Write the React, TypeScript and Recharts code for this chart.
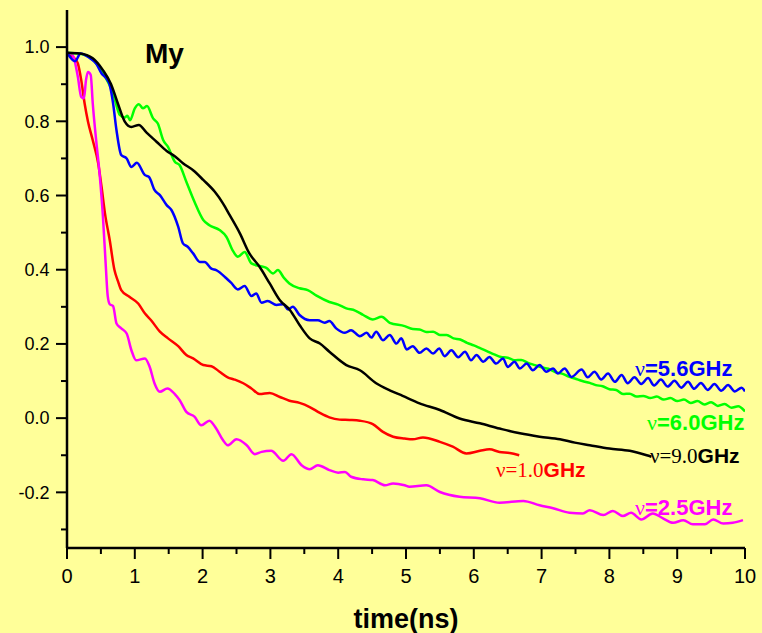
import { LineChart, Line, XAxis, YAxis } from "recharts";

// [time (ns), My]
const my1_0: [number, number][] = [
  [0, 0.985], [0.11, 0.97], [0.16, 0.956], [0.21, 0.911], [0.26, 0.848], [0.31, 0.799],
  [0.38, 0.749], [0.46, 0.687], [0.51, 0.623], [0.56, 0.552], [0.63, 0.48], [0.7, 0.399],
  [0.75, 0.37], [0.8, 0.345], [0.92, 0.327], [1.05, 0.309], [1.15, 0.282], [1.24, 0.264],
  [1.37, 0.233], [1.49, 0.215], [1.64, 0.194], [1.76, 0.17], [1.86, 0.161], [2.01, 0.143],
  [2.13, 0.14], [2.25, 0.125], [2.37, 0.11], [2.47, 0.104], [2.6, 0.094], [2.72, 0.08],
  [2.84, 0.065], [2.99, 0.068], [3.14, 0.057], [3.28, 0.047], [3.43, 0.041], [3.58, 0.03],
  [3.73, 0.014], [3.87, 0.002], [4.02, -0.004], [4.17, -0.005], [4.32, -0.007], [4.51, -0.016],
  [4.66, -0.037], [4.81, -0.05], [4.98, -0.055], [5.1, -0.057], [5.25, -0.052], [5.5, -0.064],
  [5.69, -0.077], [5.89, -0.095], [6.09, -0.088], [6.23, -0.084], [6.38, -0.091], [6.53, -0.094],
  [6.67, -0.1],
];

const my2_5: [number, number][] = [
  [0, 0.985], [0.07, 0.981], [0.11, 0.965], [0.16, 0.92], [0.21, 0.866], [0.25, 0.862],
  [0.28, 0.911], [0.31, 0.933], [0.35, 0.925], [0.38, 0.848], [0.43, 0.749], [0.48, 0.66],
  [0.53, 0.543], [0.57, 0.417], [0.6, 0.33], [0.63, 0.307], [0.68, 0.302], [0.73, 0.255],
  [0.8, 0.242], [0.88, 0.228], [0.95, 0.183], [1.02, 0.156], [1.15, 0.161], [1.22, 0.138],
  [1.29, 0.094], [1.37, 0.071], [1.48, 0.08], [1.59, 0.065], [1.66, 0.049], [1.76, 0.017],
  [1.88, 0.004], [1.98, -0.019], [2.1, -0.007], [2.2, -0.028], [2.3, -0.059], [2.37, -0.073],
  [2.5, -0.057], [2.65, -0.073], [2.77, -0.097], [2.87, -0.091], [3.01, -0.088], [3.19, -0.115],
  [3.31, -0.097], [3.46, -0.127], [3.58, -0.138], [3.7, -0.127], [3.87, -0.14], [4.0, -0.147],
  [4.1, -0.145], [4.19, -0.158], [4.37, -0.165], [4.51, -0.167], [4.69, -0.181], [4.81, -0.176],
  [4.98, -0.181], [5.05, -0.185], [5.3, -0.181], [5.5, -0.199], [5.79, -0.212], [6.09, -0.216],
  [6.38, -0.228], [6.73, -0.223], [6.97, -0.235], [7.17, -0.243], [7.41, -0.255], [7.61, -0.257],
  [7.71, -0.248], [7.91, -0.261], [8.05, -0.25], [8.2, -0.264], [8.32, -0.255], [8.47, -0.273],
  [8.64, -0.257], [8.79, -0.27], [8.94, -0.282], [9.09, -0.275], [9.23, -0.286], [9.41, -0.286],
  [9.53, -0.273], [9.68, -0.284], [9.82, -0.282], [9.97, -0.275],
];

const my5_6: [number, number][] = [
  [0, 0.985], [0.12, 0.962], [0.2, 0.983], [0.34, 0.97], [0.43, 0.956], [0.51, 0.929],
  [0.58, 0.916], [0.63, 0.898], [0.68, 0.848], [0.73, 0.776], [0.8, 0.709], [0.88, 0.7],
  [0.95, 0.677], [1.03, 0.688], [1.15, 0.655], [1.21, 0.65], [1.29, 0.615], [1.37, 0.601],
  [1.47, 0.574], [1.54, 0.561], [1.64, 0.516], [1.71, 0.471], [1.78, 0.462], [1.86, 0.444],
  [1.96, 0.421], [2.03, 0.421], [2.13, 0.403], [2.2, 0.399], [2.35, 0.377], [2.42, 0.365],
  [2.52, 0.347], [2.62, 0.356], [2.72, 0.329], [2.79, 0.336], [2.87, 0.311], [2.96, 0.316],
  [3.09, 0.305], [3.19, 0.307], [3.26, 0.293], [3.33, 0.3], [3.43, 0.278], [3.58, 0.264],
  [3.7, 0.264], [3.8, 0.257], [3.87, 0.262], [3.97, 0.242], [4.1, 0.23], [4.19, 0.237],
  [4.32, 0.221], [4.42, 0.23], [4.49, 0.217], [4.56, 0.233], [4.66, 0.21], [4.76, 0.224],
  [4.86, 0.201], [4.93, 0.215], [5.01, 0.185], [5.1, 0.194], [5.2, 0.176], [5.3, 0.188],
  [5.4, 0.174], [5.49, 0.188], [5.57, 0.167], [5.67, 0.183], [5.77, 0.164], [5.87, 0.179],
  [5.96, 0.156], [6.04, 0.17], [6.14, 0.152], [6.23, 0.165], [6.33, 0.147], [6.43, 0.161],
  [6.5, 0.138], [6.6, 0.152], [6.68, 0.134], [6.78, 0.147], [6.87, 0.129], [6.97, 0.143],
  [7.07, 0.125], [7.17, 0.134], [7.24, 0.12], [7.34, 0.134], [7.44, 0.111], [7.59, 0.131],
  [7.68, 0.11], [7.78, 0.125], [7.88, 0.104], [7.98, 0.12], [8.08, 0.098], [8.18, 0.116],
  [8.27, 0.094], [8.37, 0.11], [8.47, 0.092], [8.57, 0.108], [8.66, 0.088], [8.76, 0.104],
  [8.86, 0.085], [8.96, 0.101], [9.06, 0.082], [9.16, 0.098], [9.25, 0.079], [9.35, 0.095],
  [9.45, 0.076], [9.55, 0.092], [9.65, 0.074], [9.75, 0.089], [9.85, 0.072], [9.95, 0.082],
  [10, 0.072],
];

const my6_0: [number, number][] = [
  [0, 0.985], [0.19, 0.982], [0.38, 0.966], [0.53, 0.93], [0.68, 0.875], [0.78, 0.817],
  [0.85, 0.81], [0.89, 0.815], [0.93, 0.803], [1.0, 0.835], [1.06, 0.846], [1.12, 0.835],
  [1.18, 0.841], [1.27, 0.808], [1.34, 0.794], [1.42, 0.749], [1.49, 0.731], [1.59, 0.691],
  [1.66, 0.682], [1.76, 0.637], [1.88, 0.583], [2.01, 0.534], [2.1, 0.52], [2.25, 0.507],
  [2.35, 0.489], [2.45, 0.45], [2.52, 0.435], [2.62, 0.448], [2.72, 0.417], [2.84, 0.41],
  [2.94, 0.405], [3.04, 0.39], [3.11, 0.399], [3.2, 0.378], [3.28, 0.363], [3.43, 0.35],
  [3.55, 0.345], [3.68, 0.33], [3.87, 0.313], [4.0, 0.306], [4.12, 0.296], [4.25, 0.29],
  [4.37, 0.278], [4.51, 0.266], [4.64, 0.273], [4.76, 0.257], [4.98, 0.248], [5.1, 0.24],
  [5.2, 0.239], [5.3, 0.232], [5.4, 0.233], [5.5, 0.224], [5.6, 0.224], [5.7, 0.215],
  [5.8, 0.212], [5.9, 0.203], [6.0, 0.196], [6.1, 0.188], [6.2, 0.18], [6.3, 0.172],
  [6.4, 0.165], [6.5, 0.163], [6.6, 0.156], [6.7, 0.157], [6.8, 0.149], [6.9, 0.143],
  [7.0, 0.137], [7.1, 0.133], [7.2, 0.124], [7.3, 0.12], [7.4, 0.112], [7.49, 0.107],
  [7.6, 0.1], [7.71, 0.095], [7.8, 0.089], [7.9, 0.086], [8.0, 0.078], [8.1, 0.076],
  [8.2, 0.065], [8.3, 0.066], [8.4, 0.058], [8.5, 0.06], [8.6, 0.054], [8.7, 0.058],
  [8.8, 0.05], [8.9, 0.054], [9.0, 0.046], [9.1, 0.05], [9.2, 0.041], [9.3, 0.046],
  [9.4, 0.037], [9.5, 0.043], [9.6, 0.033], [9.7, 0.038], [9.8, 0.028], [9.9, 0.032],
  [10, 0.018],
];

const my9_0: [number, number][] = [
  [0, 0.985], [0.19, 0.983], [0.38, 0.97], [0.53, 0.938], [0.65, 0.9], [0.75, 0.848],
  [0.85, 0.8], [0.95, 0.785], [1.06, 0.79], [1.17, 0.77], [1.32, 0.745], [1.47, 0.72],
  [1.59, 0.706], [1.71, 0.687], [1.86, 0.668], [2.01, 0.642], [2.18, 0.61], [2.3, 0.579],
  [2.4, 0.547], [2.55, 0.498], [2.69, 0.444], [2.84, 0.408], [2.99, 0.363], [3.14, 0.318],
  [3.29, 0.291], [3.43, 0.251], [3.58, 0.215], [3.73, 0.201], [3.87, 0.179], [4.12, 0.143],
  [4.32, 0.129], [4.56, 0.094], [4.76, 0.075], [4.95, 0.06], [5.2, 0.04], [5.5, 0.022],
  [5.79, -0.001], [6.09, -0.014], [6.38, -0.028], [6.68, -0.041], [6.97, -0.05], [7.27, -0.057],
  [7.49, -0.066], [7.71, -0.073], [8.0, -0.082], [8.3, -0.088], [8.55, -0.1], [8.62, -0.104],
];

const xMajor = [0, 1, 2, 3, 4, 5, 6, 7, 8, 9, 10];
const xMinor = [0.5, 1.5, 2.5, 3.5, 4.5, 5.5, 6.5, 7.5, 8.5, 9.5];
const yMajor = [-0.2, 0, 0.2, 0.4, 0.6, 0.8, 1.0];
const yMinor = [-0.3, -0.1, 0.1, 0.3, 0.5, 0.7, 0.9];

const xTicks = [...xMajor, ...xMinor].sort((a, b) => a - b);
const yTicks = [...yMajor, ...yMinor].sort((a, b) => a - b);

const toPts = (arr: [number, number][]) => arr.map(([t, v]) => ({ t, v }));

const SANS = "'Liberation Sans', Arial, sans-serif";
const SERIF = "'Liberation Serif', 'Times New Roman', serif";

const isIn = (list: number[], v: number) => list.some((m) => Math.abs(m - v) < 1e-6);

const BottomTick = ({ x, y, payload }: any) => {
  const major = isIn(xMajor, payload.value);
  return (
    <g>
      <line x1={x} x2={x} y1={y} y2={y + (major ? 11 : 6)} stroke="#000" strokeWidth={2} />
      {major && (
        <text x={x} y={y + 34.5} textAnchor="middle" fontSize={20} fontFamily={SANS} fill="#000">
          {payload.value}
        </text>
      )}
    </g>
  );
};

const LeftTick = ({ x, y, payload }: any) => {
  const major = isIn(yMajor, payload.value);
  return (
    <g>
      <line x1={x} x2={x - (major ? 11 : 6)} y1={y} y2={y} stroke="#000" strokeWidth={2} />
      {major && (
        <text x={x - 17.5} y={y} dy="0.35em" textAnchor="end" fontSize={18} fontFamily={SANS} fill="#000">
          {payload.value.toFixed(1)}
        </text>
      )}
    </g>
  );
};

const TopTick = ({ x, y }: any) => <line x1={x} x2={x} y1={y} y2={y - 3} stroke="#000" strokeWidth={1.5} />;
const RightTick = ({ x, y }: any) => <line x1={x} x2={x + 3} y1={y} y2={y} stroke="#000" strokeWidth={1.5} />;

const series = [
  { name: "1.0GHz", data: my1_0, color: "#ff0000" },
  { name: "2.5GHz", data: my2_5, color: "#ff00ff" },
  { name: "6.0GHz", data: my6_0, color: "#00ff00" },
  { name: "5.6GHz", data: my5_6, color: "#0000ff" },
  { name: "9.0GHz", data: my9_0, color: "#000000" },
];

export default function App() {
  return (
    <div style={{ position: "absolute", left: 0, top: 0, width: 762, height: 633, background: "#ffff99" }}>
      <LineChart width={762} height={633} margin={{ top: 10, right: 17, bottom: 25, left: 0 }}>
        <XAxis
          xAxisId="b"
          dataKey="t"
          type="number"
          domain={[0, 10]}
          ticks={xTicks}
          interval={0}
          height={60}
          tickSize={0}
          tickMargin={0}
          tickLine={false}
          tick={<BottomTick />}
          axisLine={{ stroke: "#000", strokeWidth: 2.5 }}
          allowDataOverflow
        />
        <XAxis
          xAxisId="t"
          orientation="top"
          dataKey="t"
          type="number"
          domain={[0, 10]}
          ticks={xTicks}
          interval={0}
          height={0}
          tickSize={0}
          tickMargin={0}
          tickLine={false}
          tick={<TopTick />}
          axisLine={{ stroke: "#000", strokeWidth: 2 }}
        />
        <YAxis
          yAxisId="l"
          type="number"
          domain={[-0.35, 1.1]}
          ticks={yTicks}
          interval={0}
          width={67}
          tickSize={0}
          tickMargin={0}
          tickLine={false}
          tick={<LeftTick />}
          axisLine={{ stroke: "#000", strokeWidth: 2.5 }}
          allowDataOverflow
        />
        <YAxis
          yAxisId="r"
          orientation="right"
          type="number"
          domain={[-0.35, 1.1]}
          ticks={yTicks}
          interval={0}
          width={0}
          tickSize={0}
          tickMargin={0}
          tickLine={false}
          tick={<RightTick />}
          axisLine={{ stroke: "#000", strokeWidth: 2 }}
        />
        {series.map((s) => (
          <Line
            key={s.name}
            xAxisId="b"
            yAxisId="l"
            data={toPts(s.data)}
            dataKey="v"
            name={s.name}
            type="monotone"
            stroke={s.color}
            strokeWidth={2.5}
            dot={false}
            activeDot={false}
            isAnimationActive={false}
          />
        ))}
      </LineChart>
      <svg
        width={762}
        height={633}
        style={{ position: "absolute", left: 0, top: 0, pointerEvents: "none" }}
      >
        <text x={145} y={63} fontFamily={SANS} fontWeight="bold" fontSize={28} fill="#000">My</text>
        <text x={406} y={628} textAnchor="middle" fontFamily={SANS} fontWeight="bold" fontSize={27} fill="#000">
          time(ns)
        </text>
        <text x={635} y={376} fill="#0000ff" fontWeight="bold">
          <tspan fontFamily={SERIF} fontSize={22} fontWeight="normal">ν</tspan>
          <tspan fontFamily={SANS} fontSize={22}>=5.6GHz</tspan>
        </text>
        <text x={647} y={429.5} fill="#00ff00" fontWeight="bold">
          <tspan fontFamily={SERIF} fontSize={22} fontWeight="normal">ν</tspan>
          <tspan fontFamily={SANS} fontSize={22}>=6.0GHz</tspan>
        </text>
        <text x={650} y={463} fill="#000" fontWeight="bold">
          <tspan fontFamily={SERIF} fontSize={21} fontWeight="normal">ν=9.0</tspan>
          <tspan fontFamily={SANS} fontSize={21}>GHz</tspan>
        </text>
        <text x={496} y={476.5} fill="#ff0000" fontWeight="bold">
          <tspan fontFamily={SERIF} fontSize={21} fontWeight="normal">ν=1.0</tspan>
          <tspan fontFamily={SANS} fontSize={21}>GHz</tspan>
        </text>
        <text x={635} y={515} fill="#ff00ff" fontWeight="bold">
          <tspan fontFamily={SERIF} fontSize={22} fontWeight="normal">ν</tspan>
          <tspan fontFamily={SANS} fontSize={22}>=2.5GHz</tspan>
        </text>
      </svg>
    </div>
  );
}
